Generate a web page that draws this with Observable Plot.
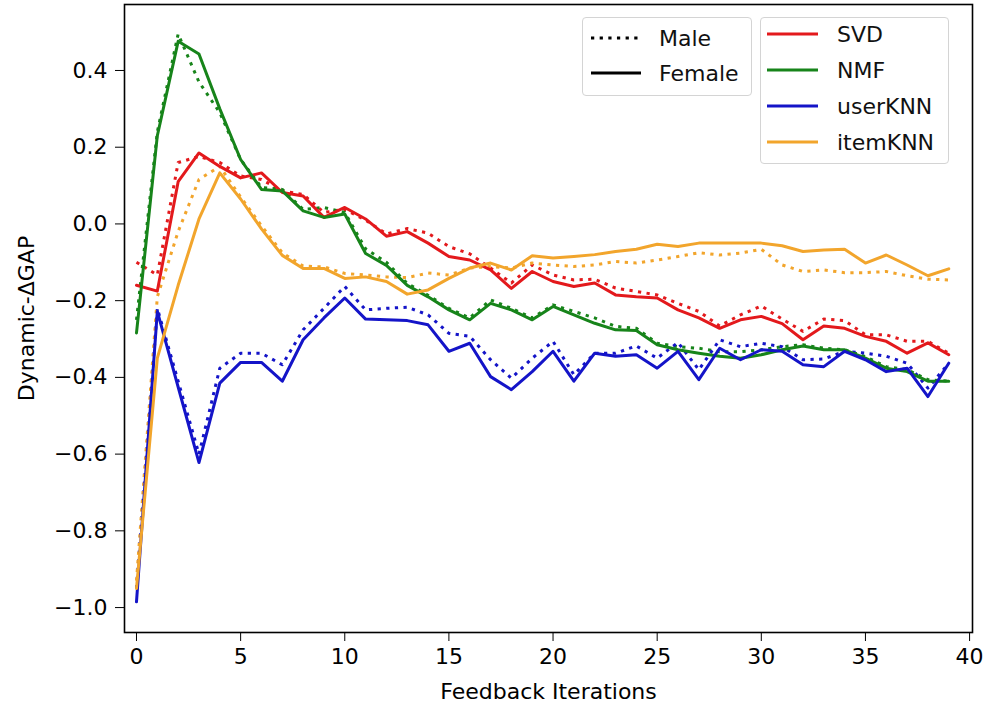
<!DOCTYPE html>
<html>
<head>
<meta charset="utf-8">
<script src="https://cdn.jsdelivr.net/npm/d3@7"></script>
<script src="https://cdn.jsdelivr.net/npm/@observablehq/plot@0.6"></script>
<style>
  html, body { margin: 0; padding: 0; background: #fff; }
  #wrap { position: relative; width: 1000px; height: 714px; font-family: "DejaVu Sans", sans-serif; }
  .legend { position: absolute; background: rgba(255,255,255,0.85); border: 1.5px solid #d4d4d4; border-radius: 4px; box-sizing: border-box; }
  .legend .row { position: absolute; left: 0; height: 30px; display: flex; align-items: center; font-size: 22px; color: #111; white-space: nowrap; }
  .legend svg { display: block; }
</style>
</head>
<body>
<div id="wrap"></div>
<script>
// ---- data ----
const iterations = d3.range(40);
const models = ["SVD", "NMF", "userKNN", "itemKNN"];
const modelColors = ["#e3191c", "#17841a", "#1414c8", "#f2a52c"];
const genders = ["Male", "Female"];
const xTicks = [0, 5, 10, 15, 20, 25, 30, 35, 40];
const yTicks = [-1.0, -0.8, -0.6, -0.4, -0.2, 0.0, 0.2, 0.4];

const svdFemale = [-0.16, -0.175, 0.11, 0.185, 0.15, 0.12, 0.133, 0.082, 0.073, 0.017,
  0.043, 0.013, -0.032, -0.02, -0.05, -0.085, -0.094, -0.12, -0.168, -0.124,
  -0.15, -0.163, -0.154, -0.185, -0.19, -0.193, -0.224, -0.245, -0.272, -0.25,
  -0.241, -0.26, -0.302, -0.266, -0.272, -0.293, -0.306, -0.337, -0.31, -0.341];
const svdMale = [-0.10, -0.133, 0.16, 0.176, 0.16, 0.125, 0.116, 0.086, 0.077, 0.03,
  0.038, 0.01, -0.026, -0.012, -0.024, -0.059, -0.078, -0.115, -0.154, -0.107,
  -0.133, -0.146, -0.144, -0.167, -0.176, -0.185, -0.207, -0.228, -0.266, -0.237,
  -0.214, -0.248, -0.28, -0.248, -0.252, -0.289, -0.289, -0.306, -0.306, -0.337];
const nmfFemale = [-0.284, 0.23, 0.476, 0.443, 0.30, 0.168, 0.09, 0.086, 0.034, 0.017,
  0.026, -0.077, -0.108, -0.16, -0.19, -0.224, -0.25, -0.207, -0.224, -0.25,
  -0.215, -0.237, -0.259, -0.276, -0.278, -0.315, -0.328, -0.337, -0.345, -0.35,
  -0.341, -0.328, -0.318, -0.328, -0.328, -0.35, -0.376, -0.385, -0.41, -0.41];
const nmfMale = [-0.25, 0.24, 0.495, 0.37, 0.29, 0.168, 0.095, 0.09, 0.038, 0.043,
  0.03, -0.065, -0.10, -0.155, -0.186, -0.22, -0.245, -0.198, -0.22, -0.245,
  -0.211, -0.228, -0.245, -0.267, -0.272, -0.311, -0.32, -0.324, -0.333, -0.333,
  -0.328, -0.32, -0.315, -0.324, -0.328, -0.346, -0.372, -0.38, -0.406, -0.41];
const userKnnFemale = [-0.985, -0.228, -0.425, -0.622, -0.415, -0.361, -0.361, -0.41, -0.302, -0.245,
  -0.193, -0.248, -0.25, -0.252, -0.263, -0.332, -0.311, -0.398, -0.432, -0.385,
  -0.332, -0.41, -0.337, -0.345, -0.341, -0.376, -0.332, -0.406, -0.324, -0.354,
  -0.328, -0.332, -0.367, -0.372, -0.332, -0.354, -0.385, -0.376, -0.45, -0.363];
const userKnnMale = [-0.95, -0.22, -0.41, -0.60, -0.376, -0.337, -0.337, -0.367, -0.276, -0.22,
  -0.163, -0.224, -0.22, -0.217, -0.237, -0.285, -0.293, -0.354, -0.402, -0.35,
  -0.306, -0.393, -0.337, -0.337, -0.318, -0.35, -0.309, -0.38, -0.302, -0.32,
  -0.311, -0.32, -0.354, -0.352, -0.332, -0.337, -0.345, -0.363, -0.428, -0.363];
const itemKnnFemale = [-0.95, -0.35, -0.16, 0.013, 0.133, 0.065, -0.013, -0.082, -0.116, -0.116,
  -0.142, -0.138, -0.15, -0.183, -0.172, -0.142, -0.115, -0.102, -0.12, -0.083,
  -0.089, -0.085, -0.08, -0.072, -0.066, -0.053, -0.059, -0.05, -0.05, -0.05,
  -0.05, -0.057, -0.072, -0.068, -0.066, -0.102, -0.081, -0.107, -0.135, -0.117];
const itemKnnMale = [-0.93, -0.19, -0.02, 0.116, 0.15, 0.07, -0.005, -0.075, -0.11, -0.112,
  -0.129, -0.133, -0.138, -0.14, -0.128, -0.133, -0.115, -0.111, -0.115, -0.102,
  -0.107, -0.111, -0.107, -0.098, -0.102, -0.094, -0.085, -0.075, -0.081, -0.076,
  -0.066, -0.107, -0.124, -0.12, -0.127, -0.127, -0.124, -0.135, -0.144, -0.146];

const seriesList = [
  {model: "SVD", gender: "Male", values: svdMale},
  {model: "SVD", gender: "Female", values: svdFemale},
  {model: "NMF", gender: "Male", values: nmfMale},
  {model: "NMF", gender: "Female", values: nmfFemale},
  {model: "userKNN", gender: "Male", values: userKnnMale},
  {model: "userKNN", gender: "Female", values: userKnnFemale},
  {model: "itemKNN", gender: "Male", values: itemKnnMale},
  {model: "itemKNN", gender: "Female", values: itemKnnFemale}
];

const rows = seriesList.flatMap(s => iterations.map((it, i) => ({iter: it, value: s.values[i], model: s.model, gender: s.gender, key: s.model + "-" + s.gender})));

const dotted = "3.25,5.4";
const lineW = 3;

const chart = Plot.plot({
  width: 1000,
  height: 714,
  marginLeft: 124,
  marginRight: 28,
  marginTop: 4,
  marginBottom: 82,
  x: {domain: [-0.576, 40.14]},
  y: {domain: [-1.065, 0.572]},
  color: {domain: models, range: modelColors},
  style: {fontFamily: "DejaVu Sans", fontSize: "22px", color: "#000", background: "white", overflow: "visible"},
  marks: [
    Plot.lineY(rows.filter(d => d.gender === "Male"), {x: "iter", y: "value", z: "key", stroke: "model", strokeWidth: lineW, strokeDasharray: dotted, strokeLinecap: "butt"}),
    Plot.lineY(rows.filter(d => d.gender === "Female"), {x: "iter", y: "value", z: "key", stroke: "model", strokeWidth: lineW}),
    Plot.frame({stroke: "#000", strokeWidth: 1.6}),
    Plot.axisX({ticks: xTicks, tickSize: 9, tickPadding: 7, tickFormat: d => String(d), label: "Feedback Iterations", labelAnchor: "center", labelArrow: "none", labelOffset: 66}),
    Plot.axisY({ticks: yTicks, tickSize: 9, tickPadding: 8, tickFormat: d3.format(".1f"), label: "Dynamic-ΔGAP", labelAnchor: "center", labelArrow: "none", labelOffset: 106, fontSize: 22})
  ]
});

const wrap = document.getElementById("wrap");
wrap.appendChild(chart);

// ---- legends (HTML overlays) ----
function makeLegend(box, entries, lineX0, lineX1, textX, rowY0, rowStep) {
  const div = document.createElement("div");
  div.className = "legend";
  Object.assign(div.style, {left: box.left + "px", top: box.top + "px", width: box.width + "px", height: box.height + "px"});
  entries.forEach((e, i) => {
    const row = document.createElement("div");
    row.className = "row";
    row.style.top = (rowY0 + i * rowStep - 15) + "px";
    row.style.width = box.width + "px";
    const svg = document.createElementNS("http://www.w3.org/2000/svg", "svg");
    svg.setAttribute("width", textX);
    svg.setAttribute("height", 30);
    const ln = document.createElementNS("http://www.w3.org/2000/svg", "line");
    ln.setAttribute("x1", lineX0); ln.setAttribute("x2", lineX1);
    ln.setAttribute("y1", 15); ln.setAttribute("y2", 15);
    ln.setAttribute("stroke", e.color);
    ln.setAttribute("stroke-width", lineW);
    if (e.dash) ln.setAttribute("stroke-dasharray", e.dash);
    svg.appendChild(ln);
    row.appendChild(svg);
    const t = document.createElement("span");
    t.textContent = e.label;
    row.appendChild(t);
    div.appendChild(row);
  });
  wrap.appendChild(div);
}

makeLegend({left: 582, top: 17, width: 170, height: 79},
  genders.map(g => ({label: g, color: "#000", dash: g === "Male" ? dotted : null})),
  8, 58, 76, 20, 35);
makeLegend({left: 760, top: 17, width: 189, height: 147},
  models.map((m, i) => ({label: m, color: modelColors[i], dash: null})),
  6, 57, 76, 16, 36);
</script>
</body>
</html>
